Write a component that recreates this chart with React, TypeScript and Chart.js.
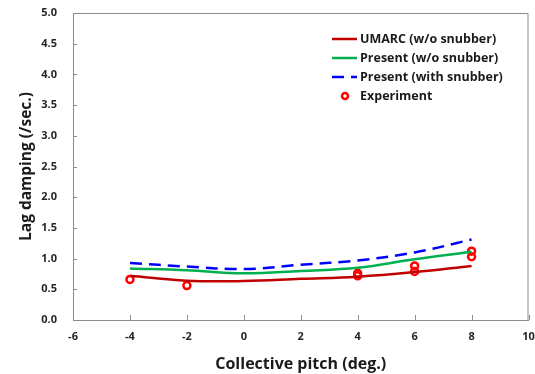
import React, { useEffect, useRef } from "react";
import { Chart, registerables } from "chart.js";

Chart.register(...registerables);

const pitch = [-4, -2, 0, 2, 4, 6, 8];
const umarc = [0.72, 0.64, 0.635, 0.67, 0.705, 0.78, 0.88];
const presentNoSnubber = [0.84, 0.81, 0.76, 0.8, 0.85, 0.99, 1.11];
const presentSnubber = [0.93, 0.87, 0.83, 0.9, 0.97, 1.1, 1.31];
const expX = [-4, -2, 4, 4, 6, 6, 8, 8];
const expY = [0.66, 0.56, 0.76, 0.72, 0.88, 0.79, 1.12, 1.03];
const yTicks = [0, 0.5, 1, 1.5, 2, 2.5, 3, 3.5, 4, 4.5, 5];
const xTicks = [-6, -4, -2, 0, 2, 4, 6, 8, 10];

const FONT = "'Open Sans', Lato, sans-serif";

const framePlugin = {
  id: "frame",
  afterDraw(chart: any) {
    const { ctx, chartArea } = chart;
    const { left, right, top, bottom } = chartArea;
    ctx.save();
    ctx.strokeStyle = "#8c8c8c";
    ctx.lineWidth = 1;
    ctx.beginPath();
    ctx.moveTo(left, top + 0.5);
    ctx.lineTo(right - 0.5, top + 0.5);
    ctx.lineTo(right - 0.5, bottom);
    ctx.stroke();
    const xs = chart.scales.x;
    const ys = chart.scales.y;
    ctx.beginPath();
    xTicks.forEach((v) => {
      const px = Math.round(xs.getPixelForValue(v)) + 0.5;
      ctx.moveTo(px, bottom);
      ctx.lineTo(px, bottom - 5);
    });
    yTicks.forEach((v) => {
      const py = Math.round(ys.getPixelForValue(v)) + 0.5;
      ctx.moveTo(left, py);
      ctx.lineTo(left + 4, py);
    });
    ctx.stroke();

    const lx = 332;
    let ly = 39;
    ctx.font = `bold 12.5px ${FONT}`;
    ctx.textBaseline = "middle";
    ctx.textAlign = "left";
    chart.data.datasets.forEach((ds: any) => {
      ctx.strokeStyle = ds.borderColor;
      ctx.lineWidth = 2.5;
      if (ds.label === "Experiment") {
        ctx.beginPath();
        ctx.arc(lx + 13, ly, 3, 0, Math.PI * 2);
        ctx.stroke();
      } else {
        ctx.setLineDash(ds.borderDash || []);
        ctx.beginPath();
        ctx.moveTo(lx, ly);
        ctx.lineTo(lx + 25, ly);
        ctx.stroke();
        ctx.setLineDash([]);
      }
      ctx.fillStyle = "#1a1a1a";
      ctx.fillText(ds.label, lx + 28, ly);
      ly += 19;
    });
    ctx.restore();
  },
};

export default function App() {
  const ref = useRef<HTMLCanvasElement>(null);
  useEffect(() => {
    if (!ref.current) return;
    const chart = new Chart(ref.current, {
      type: "line",
      data: {
        datasets: [
          {
            label: "UMARC (w/o snubber)",
            data: pitch.map((x, i) => ({ x, y: umarc[i] })),
            borderColor: "#c00000",
            borderWidth: 2.5,
            pointRadius: 0,
            tension: 0.4,
          },
          {
            label: "Present (w/o snubber)",
            data: pitch.map((x, i) => ({ x, y: presentNoSnubber[i] })),
            borderColor: "#00b050",
            borderWidth: 2.5,
            pointRadius: 0,
            tension: 0.4,
          },
          {
            label: "Present (with snubber)",
            data: pitch.map((x, i) => ({ x, y: presentSnubber[i] })),
            borderColor: "#0000ff",
            borderWidth: 2.5,
            borderDash: [12, 7],
            pointRadius: 0,
            tension: 0.4,
          },
          {
            label: "Experiment",
            data: expX.map((x, i) => ({ x, y: expY[i] })),
            borderColor: "#ff0000",
            backgroundColor: "rgba(0,0,0,0)",
            showLine: false,
            pointRadius: 3.5,
            pointBorderWidth: 2.5,
          },
        ],
      },
      options: {
        animation: false,
        responsive: false,
        maintainAspectRatio: false,
        layout: { padding: { top: 13, right: 4, left: 0, bottom: 0 } },
        plugins: { legend: { display: false }, tooltip: { enabled: false } },
        scales: {
          x: {
            type: "linear",
            min: -6,
            max: 10,
            afterBuildTicks: (s: any) => {
              s.ticks = xTicks.map((v) => ({ value: v }));
            },
            afterFit: (s: any) => {
              s.height = 54;
              s.paddingLeft = 0;
              s.paddingRight = 0;
            },
            grid: { display: false, drawTicks: false },
            border: { color: "#8c8c8c", width: 1 },
            ticks: {
              color: "#262626",
              font: { family: FONT, weight: "bold", size: 11 },
              padding: 10,
              callback: (v: any) => String(v),
            },
            title: {
              display: true,
              text: "Collective pitch (deg.)",
              color: "#1a1a1a",
              font: { family: FONT, weight: "bold", size: 16 },
              padding: { top: 10, bottom: 0 },
            },
          },
          y: {
            type: "linear",
            min: 0,
            max: 5,
            afterBuildTicks: (s: any) => {
              s.ticks = yTicks.map((v) => ({ value: v }));
            },
            afterFit: (s: any) => {
              s.width = 73;
              s.paddingTop = 0;
              s.paddingBottom = 0;
            },
            grid: { display: false, drawTicks: false },
            border: { color: "#8c8c8c", width: 1 },
            ticks: {
              color: "#262626",
              font: { family: FONT, weight: "bold", size: 11 },
              padding: 16,
              callback: (v: any) => Number(v).toFixed(1),
            },
            title: {
              display: true,
              text: "Lag damping (/sec.)",
              color: "#1a1a1a",
              font: { family: FONT, weight: "bold", size: 15.5 },
              padding: { top: 17, bottom: 4 },
            },
          },
        },
      },
      plugins: [framePlugin],
    });
    return () => chart.destroy();
  }, []);
  return (
    <div style={{ position: "absolute", left: 0, top: 0, width: 535, height: 374, background: "#fff" }}>
      <canvas ref={ref} width={535} height={374} style={{ display: "block" }} />
    </div>
  );
}
